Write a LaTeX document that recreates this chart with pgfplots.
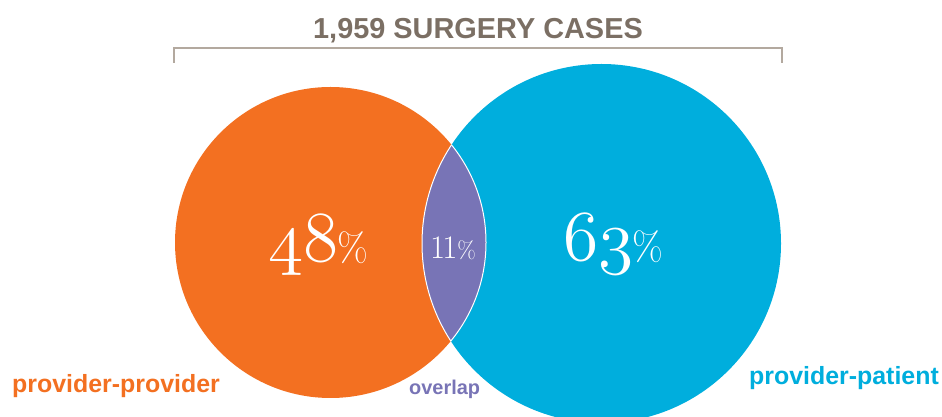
\documentclass[border=0pt]{standalone}
\usepackage{pgfplots}
\pgfplotsset{compat=1.18}
\usepackage{fontspec}
\newfontfamily\lsans{Liberation Sans}
\font\bigosf=cmmi12 at 72pt
\definecolor{vorange}{HTML}{F37021}
\definecolor{vblue}{HTML}{00AEDD}
\definecolor{vpurple}{HTML}{7874B6}
\definecolor{vtitle}{HTML}{7B6F64}
\definecolor{vbracket}{HTML}{B3A99F}
\begin{document}
\begin{tikzpicture}
\useasboundingbox (0,0) rectangle (942bp,417bp);
\begin{axis}[at={(0,0)}, anchor=south west, width=942bp, height=417bp,
  scale only axis, xmin=0, xmax=942, ymin=0, ymax=417, hide axis, clip=true]
% circles: centre x, centre y, radius (axis units = pixels)
\fill[vorange] (axis cs:330.5,174.5) circle[radius=155.5];
\fill[vblue] (axis cs:601.5,173.5) circle[radius=179.5];
\begin{scope}
\clip (axis cs:330.5,174.5) circle[radius=155.5];
\fill[vpurple] (axis cs:601.5,173.5) circle[radius=179.5];
\draw[white, line width=1bp] (axis cs:601.5,173.5) circle[radius=179.5];
\end{scope}
\begin{scope}
\clip (axis cs:601.5,173.5) circle[radius=179.5];
\draw[white, line width=1bp] (axis cs:330.5,174.5) circle[radius=155.5];
\end{scope}
% bracket and title
\draw[vbracket, line width=1.5bp] (axis cs:174,354) -- (axis cs:174,369) -- (axis cs:782,369) -- (axis cs:782,354);
\node[anchor=base, inner sep=0, text=vtitle] at (axis cs:478,378) {\lsans\bfseries\fontsize{29}{29}\selectfont 1,959 SURGERY CASES};
% percentages
\node[anchor=base west, inner sep=0, text=white] at (axis cs:268,155) {{\bigosf 48}{\kern-1pt\fontsize{40}{40}\selectfont\%}};
\node[anchor=base west, inner sep=0, text=white] at (axis cs:563,156) {{\bigosf 63}{\kern-1pt\fontsize{40}{40}\selectfont\%}};
\node[anchor=base west, inner sep=0, text=white] at (axis cs:430,158) {\fontsize{33}{33}\selectfont 1\kern-3pt 1\fontsize{24}{24}\selectfont\%};
% labels
\node[anchor=base west, inner sep=0, text=vorange] at (axis cs:12,25) {\lsans\bfseries\fontsize{25}{25}\selectfont provider-provider};
\node[anchor=base west, inner sep=0, text=vpurple] at (axis cs:409,23) {\lsans\bfseries\fontsize{20}{20}\selectfont overlap};
\node[anchor=base east, inner sep=0, text=vblue] at (axis cs:939,32) {\lsans\bfseries\fontsize{25}{25}\selectfont provider-patient};
\end{axis}
\end{tikzpicture}
\end{document}
